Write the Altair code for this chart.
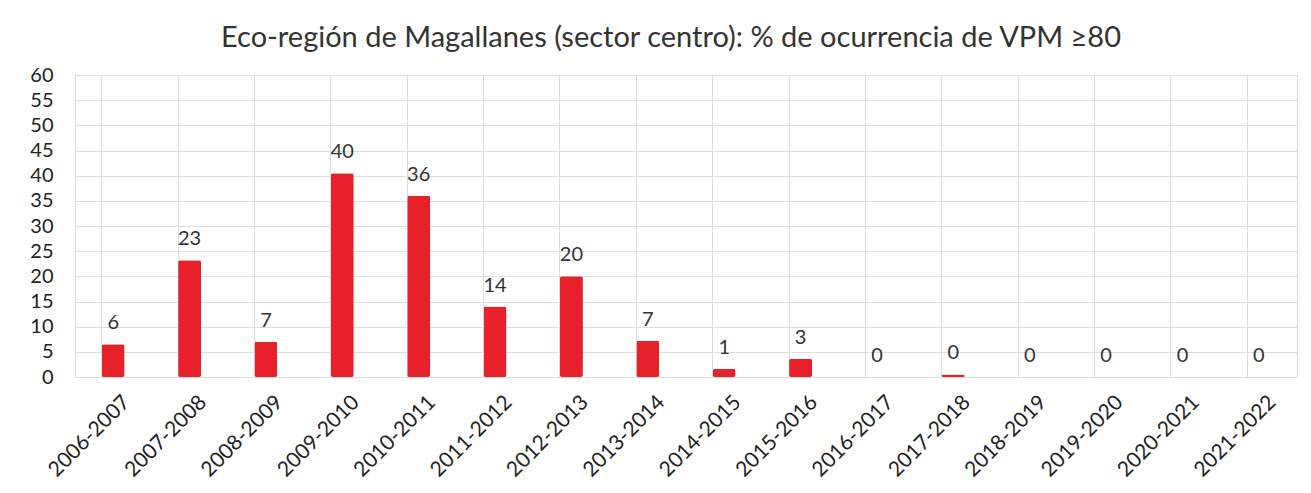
import altair as alt
import pandas as pd

seasons = ["2006-2007", "2007-2008", "2008-2009", "2009-2010", "2010-2011", "2011-2012",
           "2012-2013", "2013-2014", "2014-2015", "2015-2016", "2016-2017", "2017-2018",
           "2018-2019", "2019-2020", "2020-2021", "2021-2022"]
values = [6.5, 23.2, 7.0, 40.5, 36.0, 14.0, 20.0, 7.2, 1.6, 3.6, 0.0, 0.5, 0.0, 0.0, 0.0, 0.0]
labels = ["6", "23", "7", "40", "36", "14", "20", "7", "1", "3", "0", "0", "0", "0", "0", "0"]
y_max = 60
y_tick_count = 12

df = pd.DataFrame({"season": seasons, "value": values, "label": labels})

FONT = "Lato"

x = alt.X("season:N", sort=seasons, title=None,
          scale=alt.Scale(paddingInner=0.7, paddingOuter=0.35),
          axis=alt.Axis(labelAngle=-45, labelAlign="right", labelBaseline="top",
                        labelFontSize=21, labelColor="#222222", labelFont=FONT,
                        ticks=False, domain=False, grid=True, gridColor="#dedede",
                        bandPosition=0, labelPadding=14, labelOffset=6, labelOverlap=False))
y = alt.Y("value:Q", title=None,
          scale=alt.Scale(domain=[0, y_max], nice=False, zero=True),
          axis=alt.Axis(tickCount=y_tick_count, labelFontSize=20, labelColor="#222222",
                        labelFont=FONT, ticks=False, domain=False, gridColor="#dedede",
                        labelPadding=22, labelOverlap=False, labelFlush=False))

base = alt.Chart(df).encode(x=x, y=y)
bars = base.mark_bar(color="#e8202a", cornerRadius=2)
text = base.mark_text(baseline="bottom", dy=-11, fontSize=20, font=FONT,
                      color="#333333").encode(text="label:N")

chart = (bars + text).properties(
    width=1222, height=302,
    padding={"left": 67, "top": 67, "right": 6, "bottom": 108},
    autosize=alt.AutoSizeParams(type="none"),
    title=alt.TitleParams("Eco-región de Magallanes (sector centro): % de ocurrencia de VPM ≥80",
                          fontSize=29, font=FONT, fontWeight="normal", color="#333333",
                          anchor="middle", offset=12, dx=-15),
).configure_view(fill="#f6f6f8", stroke=None).configure(background="white")

chart.save("out.html", embed_options={"renderer": "svg", "actions": False})
